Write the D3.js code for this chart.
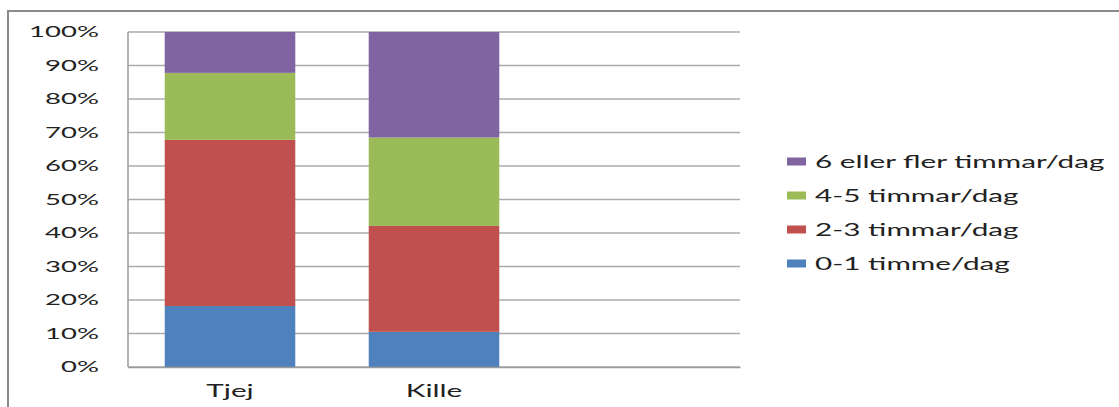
<!DOCTYPE html>
<html>
<head>
<meta charset="utf-8">
<script src="https://cdn.jsdelivr.net/npm/d3@7"></script>
<style>
  html, body { margin: 0; padding: 0; background: #fff; }
  svg { display: block; }
  text { font-family: Lato, "Open Sans", sans-serif; fill: #222; }
</style>
</head>
<body>
<svg id="chart" width="1119" height="407"></svg>
<script>
// Categories (the third slot is left empty, as in the original workbook)
const categories = ["Tjej", "Kille", ""];

// Series, bottom to top of each stack (percent of answers)
const seriesNames = ["0-1 timme/dag", "2-3 timmar/dag", "4-5 timmar/dag", "6 eller fler timmar/dag"];
const seriesColors = ["#4F81BD", "#C0504D", "#9BBB59", "#8064A2"];
const tjejValues  = [18.2, 49.6, 20.0, 12.2];
const killeValues = [10.5, 31.6, 26.4, 31.5];

// Y tick labels
const yTicks = [0, 10, 20, 30, 40, 50, 60, 70, 80, 90, 100];
const yTickLabels = yTicks.map(d => d + "%");

// Build rows for d3.stack
const rows = [
  { cat: "Tjej",  values: tjejValues },
  { cat: "Kille", values: killeValues }
].map(r => {
  const o = { cat: r.cat };
  seriesNames.forEach((s, i) => o[s] = r.values[i]);
  return o;
});

const svg = d3.select("#chart");
const W = 1119, H = 407;
const plot = { left: 128, right: 740, top: 32, bottom: 367 };

// Wide lettering: widen each label horizontally by a factor
function stretchText(sel, factor) {
  sel.each(function () {
    const len = this.getComputedTextLength();
    if (len > 0) {
      d3.select(this).attr("textLength", len * factor).attr("lengthAdjust", "spacingAndGlyphs");
    }
  });
}

// Outer frame (left and top edges visible)
svg.append("path")
  .attr("d", `M8,${H} V11 H${W}`)
  .attr("fill", "none")
  .attr("stroke", "#8a8a8a")
  .attr("stroke-width", 2);

const x = d3.scaleBand()
  .domain(categories)
  .range([plot.left, plot.right])
  .paddingInner(0.36)
  .paddingOuter(0.18);

const y = d3.scaleLinear()
  .domain([0, 100])
  .range([plot.bottom, plot.top]);

// Gridlines
svg.append("g")
  .selectAll("line")
  .data(yTicks)
  .join("line")
  .attr("x1", plot.left)
  .attr("x2", plot.right)
  .attr("y1", d => y(d))
  .attr("y2", d => y(d))
  .attr("stroke", "#ababab")
  .attr("stroke-width", 1.5);

// Left axis line
svg.append("line")
  .attr("x1", plot.left).attr("x2", plot.left)
  .attr("y1", plot.top).attr("y2", plot.bottom)
  .attr("stroke", "#9a9a9a").attr("stroke-width", 1.5);

// Stacked bars
const stack = d3.stack().keys(seriesNames);
const layers = stack(rows);

svg.append("g")
  .selectAll("g")
  .data(layers)
  .join("g")
  .attr("fill", (d, i) => seriesColors[i])
  .selectAll("rect")
  .data(d => d)
  .join("rect")
  .attr("x", d => x(d.data.cat))
  .attr("width", x.bandwidth())
  .attr("y", d => y(d[1]))
  .attr("height", d => y(d[0]) - y(d[1]));

// Y axis labels
const yAxis = d3.axisLeft(y)
  .tickValues(yTicks)
  .tickFormat((d, i) => yTickLabels[i])
  .tickSize(0)
  .tickPadding(0);

const yg = svg.append("g")
  .attr("transform", "translate(99,0)")
  .call(yAxis);
yg.select(".domain").remove();
yg.selectAll("text")
  .attr("dy", null)
  .attr("y", 4.7)
  .attr("font-size", 16)
  .attr("font-family", "Lato")
  .attr("fill", "#222")
  .call(stretchText, 1.72);

// X axis
const xAxis = d3.axisBottom(x).tickSize(0).tickPadding(0);
const xg = svg.append("g")
  .attr("transform", `translate(0,${plot.bottom})`)
  .call(xAxis);
xg.select(".domain")
  .attr("stroke", "#9a9a9a")
  .attr("stroke-width", 1.5);
xg.selectAll("text")
  .attr("dy", null)
  .attr("y", 29.5)
  .attr("font-size", 17)
  .attr("font-family", "Lato")
  .attr("fill", "#222")
  .call(stretchText, 1.75);

// Legend (top entry is the top of the stack)
const legendOrder = seriesNames.map((s, i) => ({ name: s, color: seriesColors[i] })).reverse();
const legend = svg.append("g")
  .selectAll("g")
  .data(legendOrder)
  .join("g")
  .attr("transform", (d, i) => `translate(787,${168 + i * 34})`);

legend.append("rect")
  .attr("x", 0)
  .attr("y", -10.5)
  .attr("width", 19)
  .attr("height", 8)
  .attr("fill", d => d.color);

legend.append("text")
  .attr("x", 28)
  .attr("y", 0)
  .attr("font-size", 16.5)
  .text(d => d.name)
  .call(stretchText, 1.8);
</script>
</body>
</html>
